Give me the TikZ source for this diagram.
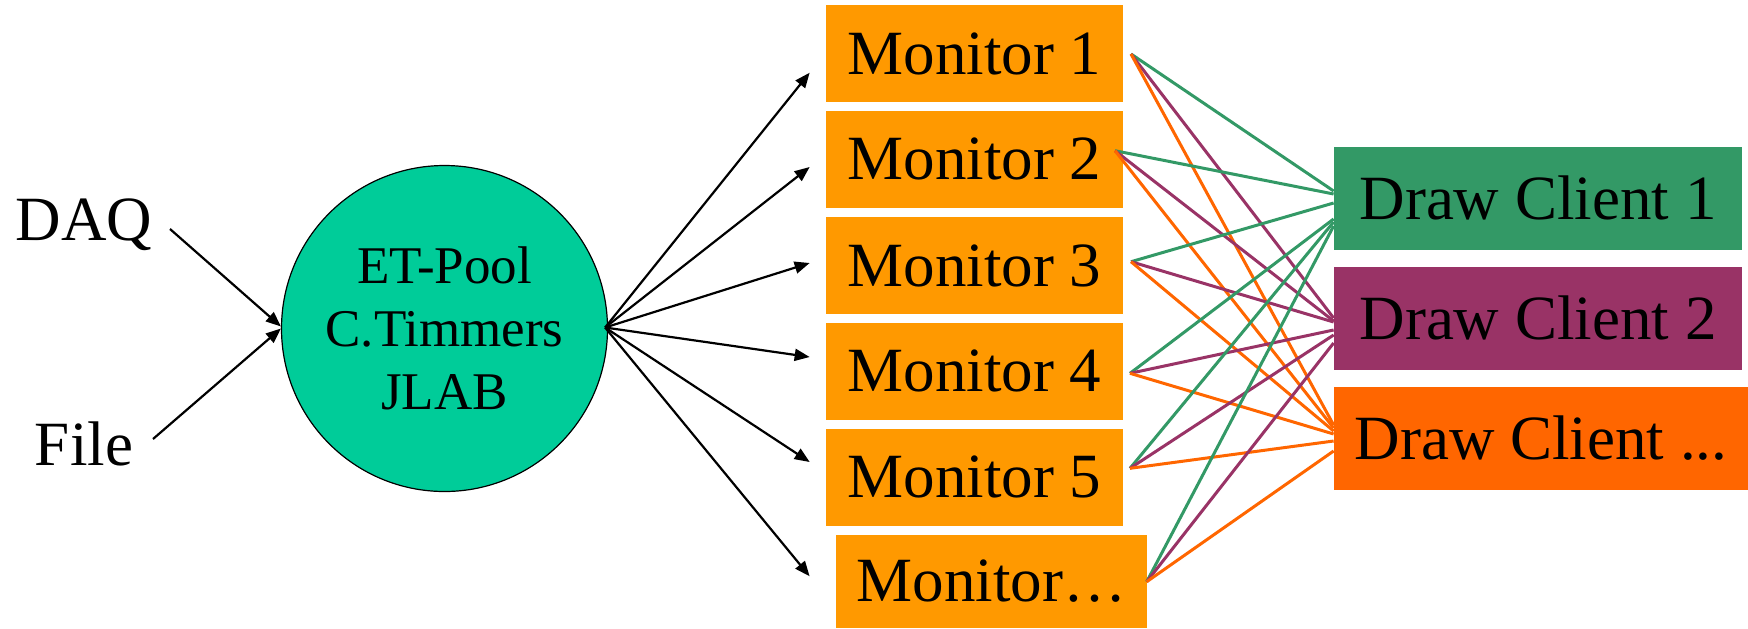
\documentclass[tikz,border=0pt]{standalone}
\usepackage{fontspec}
\setmainfont{Liberation Serif}
\usetikzlibrary{arrows.meta,calc}
\definecolor{monorange}{HTML}{FF9900}
\definecolor{poolgreen}{HTML}{00CC99}
\definecolor{clientgreen}{HTML}{339966}
\definecolor{clientpurple}{HTML}{993366}
\definecolor{clientorange}{HTML}{FF6600}
\begin{document}
\begin{tikzpicture}[x=0.5pt,y=-0.5pt,
  bigtext/.style={font=\fontsize{31.5}{37.5}\selectfont},
  monitor/.style={bigtext, fill=monorange, minimum width=148.35pt, minimum height=48.5pt, inner sep=0pt},
  client/.style={bigtext, minimum width=204pt, minimum height=51.75pt, inner sep=0pt},
  feed/.style={line width=1.1pt, -{Triangle[length=7.5pt,width=6pt]}},
  link/.style={line width=1.5pt},
]
\useasboundingbox (0,0) rectangle (1748,628);

% sources
\node[bigtext, anchor=base] (daq) at (84,240.7) {DAQ};
\node[bigtext, anchor=base] (file) at (84,465) {File};

% event transfer pool
\node[circle, draw=black, line width=0.6pt, fill=poolgreen, minimum size=163pt,
      inner sep=0pt, align=center, font=\fontsize{26.5}{31.65}\selectfont]
  (pool) at (444.5,328.5) {ET-Pool\\C.Timmers\\JLAB};

% monitors
\node[monitor] (m1) at (974.4,53.7) {Monitor 1};
\node[monitor] (m2) at (974.4,159.3) {Monitor 2};
\node[monitor] (m3) at (974.4,265.5) {Monitor 3};
\node[monitor] (m4) at (974.4,371) {Monitor 4};
\node[monitor] (m5) at (974.4,477.3) {Monitor 5};
\node[monitor, minimum width=155.5pt, minimum height=46.75pt] (m6) at (991.5,581.25) {Monitor…};

% draw clients
\node[client, fill=clientgreen] (c1) at (1538,198.3) {Draw Client 1};
\node[client, fill=clientpurple] (c2) at (1538,318.3) {Draw Client 2};
\node[client, fill=clientorange, minimum width=207pt] (c3) at (1541,438.3) {Draw Client ...};

% inputs into the pool
\coordinate (daqout) at (170,229);
\coordinate (fileout) at (153,439);
\draw[feed] (daqout) -- ($(pool.west)+(0,-2)$);
\draw[feed] (fileout) -- ($(pool.west)+(0,0)$);

% pool to monitors
\coordinate (poolout) at ($(pool.east)+(-3,-1)$);
\draw[feed] (poolout) -- ($(m1.west)+(-16,19)$);
\draw[feed] (poolout) -- ($(m2.west)+(-16,7.7)$);
\draw[feed] (poolout) -- ($(m3.west)+(-16,-2.5)$);
\draw[feed] (poolout) -- ($(m4.west)+(-16,-14)$);
\draw[feed] (poolout) -- ($(m5.west)+(-16,-15.3)$);
\draw[feed] (poolout) -- ($(m6.west)+(-26,-5)$);

% monitor outputs
\coordinate (o1) at (1131,54);
\coordinate (o2) at (1115,150.7);
\coordinate (o3) at (1131,261.7);
\coordinate (o4) at (1130,373.3);
\coordinate (o5) at (1130,468.3);
\coordinate (o6) at (1146.7,581.7);

% every monitor feeds every draw client
\foreach \m/\g/\p/\o in {1/-7.3/-0.3/-13.3, 2/-4.3/2.7/-10.3, 3/4.7/3.7/-7.3,
                         4/20.7/11.7/-4.3, 5/23.7/16.7/2.7, 6/27.7/24.7/12.7} {
  \draw[link, clientgreen] (o\m) -- ($(c1.west)+(0,\g)$);
  \draw[link, clientpurple] (o\m) -- ($(c2.west)+(0,\p)$);
  \draw[link, clientorange] (o\m) -- ($(c3.west)+(0,\o)$);
}
\end{tikzpicture}
\end{document}
